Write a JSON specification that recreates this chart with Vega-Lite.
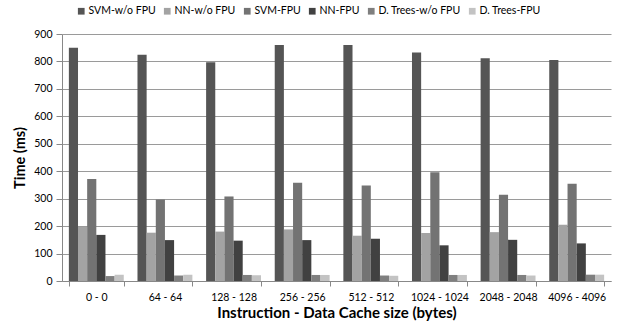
{
  "$schema": "https://vega.github.io/schema/vega-lite/v6.json",
  "autosize": "none",
  "width": 549,
  "height": 247,
  "padding": {"left": 62, "top": 34, "right": 7, "bottom": 47},
  "background": "white",
  "config": {
    "font": "Lato",
    "view": {"stroke": null},
    "axis": {"labelFont": "Lato", "titleFont": "Lato", "labelColor": "#000", "titleColor": "#000"}
  },
  "data": {
    "values": [
      {"cache": "0 - 0", "series": "SVM-w/o FPU", "time": 850},
      {"cache": "0 - 0", "series": "NN-w/o FPU", "time": 197},
      {"cache": "0 - 0", "series": "SVM-FPU", "time": 372},
      {"cache": "0 - 0", "series": "NN-FPU", "time": 168},
      {"cache": "0 - 0", "series": "D. Trees-w/o FPU", "time": 18},
      {"cache": "0 - 0", "series": "D. Trees-FPU", "time": 23},
      {"cache": "64 - 64", "series": "SVM-w/o FPU", "time": 824},
      {"cache": "64 - 64", "series": "NN-w/o FPU", "time": 176},
      {"cache": "64 - 64", "series": "SVM-FPU", "time": 297},
      {"cache": "64 - 64", "series": "NN-FPU", "time": 149},
      {"cache": "64 - 64", "series": "D. Trees-w/o FPU", "time": 20},
      {"cache": "64 - 64", "series": "D. Trees-FPU", "time": 23},
      {"cache": "128 - 128", "series": "SVM-w/o FPU", "time": 797},
      {"cache": "128 - 128", "series": "NN-w/o FPU", "time": 180},
      {"cache": "128 - 128", "series": "SVM-FPU", "time": 308},
      {"cache": "128 - 128", "series": "NN-FPU", "time": 147},
      {"cache": "128 - 128", "series": "D. Trees-w/o FPU", "time": 22},
      {"cache": "128 - 128", "series": "D. Trees-FPU", "time": 21},
      {"cache": "256 - 256", "series": "SVM-w/o FPU", "time": 860},
      {"cache": "256 - 256", "series": "NN-w/o FPU", "time": 188},
      {"cache": "256 - 256", "series": "SVM-FPU", "time": 358},
      {"cache": "256 - 256", "series": "NN-FPU", "time": 149},
      {"cache": "256 - 256", "series": "D. Trees-w/o FPU", "time": 22},
      {"cache": "256 - 256", "series": "D. Trees-FPU", "time": 22},
      {"cache": "512 - 512", "series": "SVM-w/o FPU", "time": 860},
      {"cache": "512 - 512", "series": "NN-w/o FPU", "time": 165},
      {"cache": "512 - 512", "series": "SVM-FPU", "time": 348},
      {"cache": "512 - 512", "series": "NN-FPU", "time": 154},
      {"cache": "512 - 512", "series": "D. Trees-w/o FPU", "time": 20},
      {"cache": "512 - 512", "series": "D. Trees-FPU", "time": 19},
      {"cache": "1024 - 1024", "series": "SVM-w/o FPU", "time": 833},
      {"cache": "1024 - 1024", "series": "NN-w/o FPU", "time": 175},
      {"cache": "1024 - 1024", "series": "SVM-FPU", "time": 396},
      {"cache": "1024 - 1024", "series": "NN-FPU", "time": 130},
      {"cache": "1024 - 1024", "series": "D. Trees-w/o FPU", "time": 22},
      {"cache": "1024 - 1024", "series": "D. Trees-FPU", "time": 22},
      {"cache": "2048 - 2048", "series": "SVM-w/o FPU", "time": 812},
      {"cache": "2048 - 2048", "series": "NN-w/o FPU", "time": 178},
      {"cache": "2048 - 2048", "series": "SVM-FPU", "time": 314},
      {"cache": "2048 - 2048", "series": "NN-FPU", "time": 150},
      {"cache": "2048 - 2048", "series": "D. Trees-w/o FPU", "time": 22},
      {"cache": "2048 - 2048", "series": "D. Trees-FPU", "time": 20},
      {"cache": "4096 - 4096", "series": "SVM-w/o FPU", "time": 805},
      {"cache": "4096 - 4096", "series": "NN-w/o FPU", "time": 205},
      {"cache": "4096 - 4096", "series": "SVM-FPU", "time": 354},
      {"cache": "4096 - 4096", "series": "NN-FPU", "time": 137},
      {"cache": "4096 - 4096", "series": "D. Trees-w/o FPU", "time": 23},
      {"cache": "4096 - 4096", "series": "D. Trees-FPU", "time": 23}
    ]
  },
  "mark": {"type": "bar"},
  "encoding": {
    "x": {
      "field": "cache",
      "type": "nominal",
      "sort": null,
      "scale": {"paddingInner": 0.2, "paddingOuter": 0.1},
      "axis": {
        "title": "Instruction - Data Cache size (bytes)",
        "titleFontSize": 15,
        "titleFontWeight": "bold",
        "titlePadding": 3,
        "labelAngle": 0,
        "labelFontSize": 10.5,
        "labelPadding": 6,
        "tickBand": "extent",
        "tickSize": 5,
        "tickColor": "#888",
        "domainColor": "#888",
        "grid": false
      }
    },
    "xOffset": {
      "field": "series",
      "type": "nominal",
      "sort": ["SVM-w/o FPU", "NN-w/o FPU", "SVM-FPU", "NN-FPU", "D. Trees-w/o FPU", "D. Trees-FPU"],
      "scale": {"paddingInner": 0, "paddingOuter": 0}
    },
    "y": {
      "field": "time",
      "type": "quantitative",
      "scale": {"domain": [0, 900]},
      "axis": {
        "title": "Time (ms)",
        "titleFontSize": 14.5,
        "titleFontWeight": "bold",
        "titlePadding": 6,
        "values": [0, 100, 200, 300, 400, 500, 600, 700, 800, 900],
        "labelFontSize": 10.5,
        "labelPadding": 4,
        "tickSize": 6,
        "tickColor": "#888",
        "domainColor": "#888",
        "gridColor": "#9a9a9a",
        "gridWidth": 1
      }
    },
    "color": {
      "field": "series",
      "type": "nominal",
      "scale": {
        "domain": ["SVM-w/o FPU", "NN-w/o FPU", "SVM-FPU", "NN-FPU", "D. Trees-w/o FPU", "D. Trees-FPU"],
        "range": ["#555555", "#a3a3a3", "#737373", "#414141", "#7f7f7f", "#c3c3c3"]
      },
      "legend": {
        "title": null,
        "orient": "none",
        "direction": "horizontal",
        "legendX": 14,
        "legendY": -28,
        "gridAlign": "none",
        "symbolType": "square",
        "symbolSize": 45,
        "symbolStrokeWidth": 0,
        "labelFontSize": 10.5,
        "labelOffset": 2,
        "columnPadding": 6
      }
    }
  }
}
